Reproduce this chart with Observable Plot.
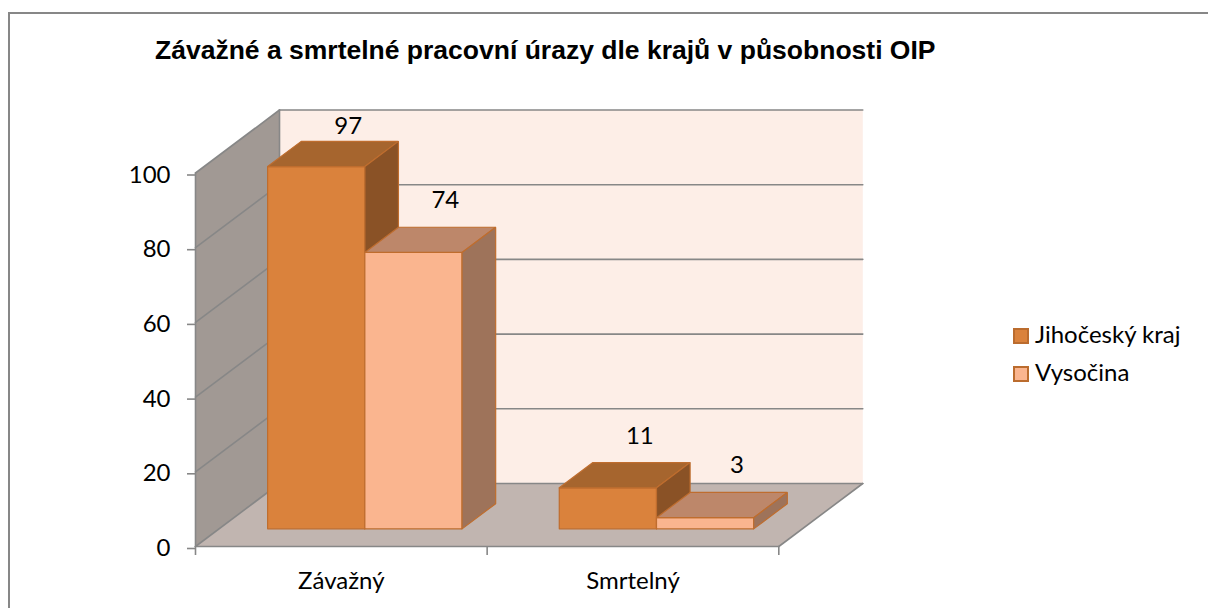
<!DOCTYPE html>
<html>
<head>
<meta charset="utf-8">
<script src="https://cdn.jsdelivr.net/npm/d3@7"></script>
<script src="https://cdn.jsdelivr.net/npm/@observablehq/plot@0.6"></script>
<style>
  body { margin: 0; background: #fff; }
  #wrap { position: relative; width: 1208px; height: 608px; overflow: hidden; font-family: Lato, "Noto Sans", sans-serif; }
  #frame { position: absolute; left: 8px; top: 12px; width: 1400px; height: 800px;
           border-left: 2px solid #878787; border-top: 2px solid #878787; }
  #title { position: absolute; left: 155px; top: 34.6px; line-height: 1; white-space: nowrap;
           font: bold 26.5px "Liberation Sans", Arial, sans-serif; color: #000; }
  #chart { position: absolute; left: 0; top: 0; }
  .sw { position: absolute; left: 1013px; width: 12px; height: 12px; border: 2px solid #bb6c2e; }
  .lt { position: absolute; left: 1035px; line-height: 1; font-size: 24px; white-space: nowrap; color: #000; }
</style>
</head>
<body>
<div id="wrap">
  <div id="frame"></div>
  <div id="title"></div>
  <div id="chart"></div>
  <div id="legend"></div>
</div>
<script>
(function () {
// ---- data ----
const titleText = "Závažné a smrtelné pracovní úrazy dle krajů v působnosti OIP";
const categories = ["Závažný", "Smrtelný"];
const seriesNames = ["Jihočeský kraj", "Vysočina"];
const jihocesky = [97, 11];
const vysocina = [74, 3];
const yTicks = [0, 20, 40, 60, 80, 100];

// ---- styles ----
const seriesColors = [
  {front: "#DA823C", top: "#A6652E", side: "#8A5226"},
  {front: "#FAB58F", top: "#BD876A", side: "#9E735A"}
];
const barStroke = "#bf6d2e";
const gridColor = "#878787";

// ---- layout / projection ----
const W = 1208, H = 608;
const plotLeft = 195, plotRight = 778.3, plotTop = 172.5, plotBottom = 546;
const kx = (plotRight - plotLeft) / categories.length;
const ky = (plotBottom - plotTop) / 100;
const DX = 84 / kx, DY = 63 / ky;       // full depth vector in data units
const F0 = 0.28, F1 = 0.68;             // bar depth range
const P = (x, y, f) => [x + f * DX, y + f * DY];
const closeP = pts => [...pts, pts[0]];

const nCat = categories.length;
const yMax = yTicks[yTicks.length - 1];

// walls
const walls = [
  {pts: closeP([P(0, 0, 0), P(0, 0, 1), P(0, yMax, 1), P(0, yMax, 0)]), fill: "#A19994"},
  {pts: closeP([P(0, 0, 1), P(nCat, 0, 1), P(nCat, yMax, 1), P(0, yMax, 1)]), fill: "#FDEEE7"},
  {pts: closeP([P(0, 0, 0), P(nCat, 0, 0), P(nCat, 0, 1), P(0, 0, 1)]), fill: "#C1B5B0"}
];

// grid / edges
const lines = [];
for (const t of yTicks) {
  lines.push([P(0, t, 1), P(nCat, t, 1)]);
  lines.push([P(0, t, 0), P(0, t, 1)]);
}
lines.push([P(0, 0, 1), P(0, yMax, 1)]);
lines.push([P(0, 0, 0), P(0, yMax, 0)]);
lines.push([P(0, 0, 0), P(nCat, 0, 0)]);
lines.push([P(nCat, 0, 0), P(nCat, 0, 1)]);

// bars
const seriesValues = [jihocesky, vysocina];
const bars = [];
const labels = [];
categories.forEach((c, i) => {
  seriesValues.forEach((vals, j) => {
    const v = vals[i];
    const x0 = i + 1 / 6 + j / 3, x1 = x0 + 1 / 3;
    const col = seriesColors[j];
    bars.push({pts: closeP([P(x0, 0, F0), P(x1, 0, F0), P(x1, v, F0), P(x0, v, F0)]), fill: col.front});
    bars.push({pts: closeP([P(x0, v, F0), P(x1, v, F0), P(x1, v, F1), P(x0, v, F1)]), fill: col.top});
    bars.push({pts: closeP([P(x1, 0, F0), P(x1, 0, F1), P(x1, v, F1), P(x1, v, F0)]), fill: col.side});
    const lp = P((x0 + x1) / 2, v, 0.66);
    labels.push({x: lp[0], y: Math.min(lp[1] + 28 / ky, (plotBottom - 126) / ky), text: String(v)});
  });
});

const marks = [];
for (const p of walls) {
  marks.push(Plot.line(p.pts, {x: d => d[0], y: d => d[1], fill: p.fill, stroke: "none"}));
}
for (const l of lines) {
  marks.push(Plot.line(l, {x: d => d[0], y: d => d[1], stroke: gridColor, strokeWidth: 1.6}));
}
for (const p of bars) {
  marks.push(Plot.line(p.pts, {x: d => d[0], y: d => d[1], fill: p.fill, stroke: barStroke, strokeWidth: 1.2, strokeLinejoin: "miter"}));
}
marks.push(Plot.axisY(yTicks, {tickSize: 8, tickPadding: 17, fontSize: 24, stroke: gridColor, fill: "#000", strokeWidth: 1.6, label: null, dy: 2}));
marks.push(Plot.axisX(d3.range(nCat + 1), {tickSize: 9, tickFormat: () => "", stroke: gridColor, strokeWidth: 1.6, label: null}));
marks.push(Plot.axisX(categories.map((c, i) => i + 0.5), {tickSize: 0, tickPadding: 25, fontSize: 24, fill: "#000", tickFormat: d => categories[Math.floor(d)], label: null}));
marks.push(Plot.text(labels, {x: "x", y: "y", text: "text", fontSize: 24, fill: "#000", lineAnchor: "middle"}));

const chart = Plot.plot({
  width: W, height: H,
  marginLeft: plotLeft, marginRight: W - plotRight, marginTop: plotTop, marginBottom: H - plotBottom,
  x: {type: "linear", domain: [0, nCat]},
  y: {type: "linear", domain: [0, yMax]},
  style: {fontFamily: "Lato, 'Noto Sans', sans-serif", fontSize: "24px", color: "#000", background: "transparent", overflow: "visible"},
  marks
});
document.getElementById("chart").appendChild(chart);
document.getElementById("title").textContent = titleText;

// legend
const leg = document.getElementById("legend");
const baselines = [343.3, 381];
seriesNames.forEach((n, j) => {
  const sw = document.createElement("div");
  sw.className = "sw";
  sw.style.top = (baselines[j] - 15.5) + "px";
  sw.style.background = seriesColors[j].front;
  leg.appendChild(sw);
  const t = document.createElement("div");
  t.className = "lt";
  t.style.top = (baselines[j] - 0.887 * 24) + "px";
  t.textContent = n;
  leg.appendChild(t);
});
})();
</script>
</body>
</html>
